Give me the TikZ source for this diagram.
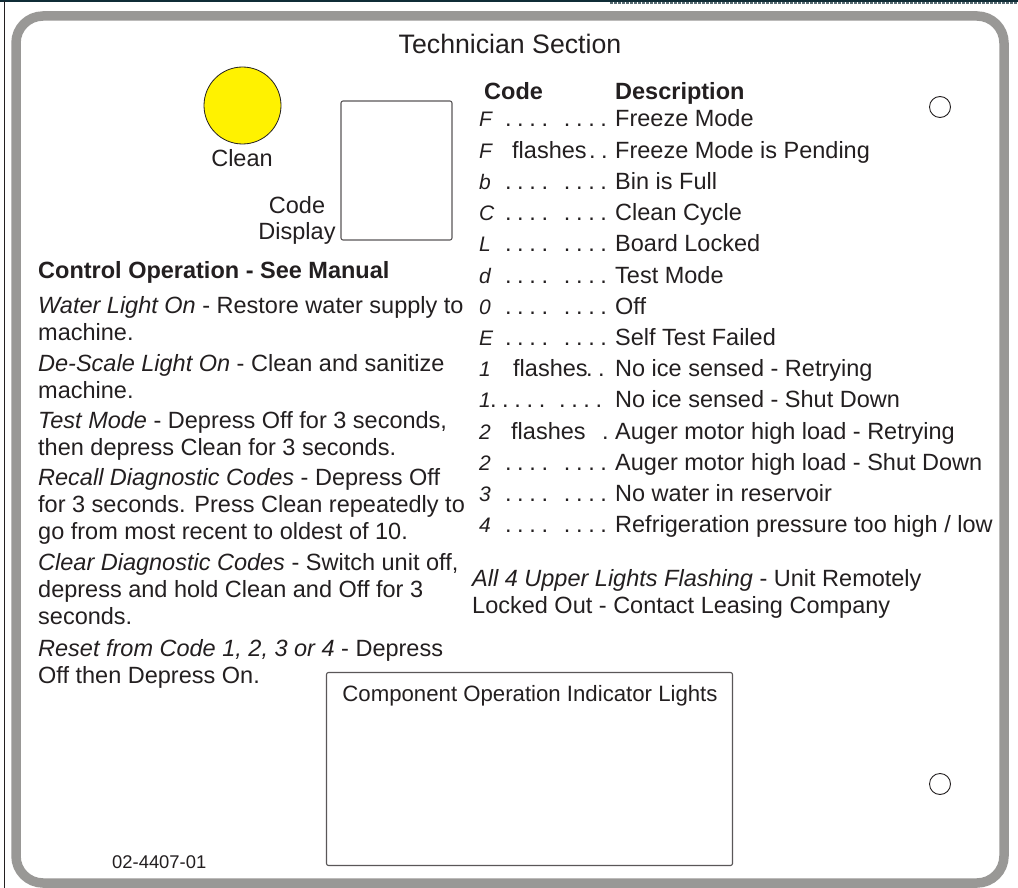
\documentclass[tikz,border=0pt]{standalone}
\usepackage{fontspec}
\setmainfont{Liberation Sans}
\definecolor{ink}{HTML}{231F20}
\definecolor{framegray}{HTML}{999896}
\definecolor{lamp}{HTML}{FFF200}
\definecolor{topbar}{HTML}{0F2C36}
\newcommand\bodyf{\fontsize{23.5}{27}\selectfont}
\newcommand\titlef{\fontsize{26.7}{30}\selectfont}
\newcommand\codef{\fontsize{21}{22}\selectfont\itshape}
\newcommand\partf{\fontsize{18.4}{22}\selectfont}
\newcommand\dd{\makebox[12.2pt][c]{.}}
\newcommand\eightdots{\dd\dd\dd\dd\hspace{10pt}\dd\dd\dd\dd}
\newcommand\ninedots{\dd\dd\dd\dd\dd\hspace{8pt}\dd\dd\dd\dd}
\begin{document}
\begin{tikzpicture}[x=1pt,y=-1pt,
  txt/.style={anchor=base west,inner sep=0pt,text=ink,font=\bodyf},
  ctxt/.style={anchor=base,inner sep=0pt,text=ink,font=\bodyf},
  codeglyph/.style={anchor=base west,inner sep=0pt,text=ink,font=\codef},
  hole/.style={draw=ink,line width=0.9pt,fill=white},
  boxline/.style={draw=ink!75,line width=1.1pt,rounded corners=2pt}]
\useasboundingbox (0,0) rectangle (1018,888);
\fill[white] (0,0) rectangle (1018,888);
% top bar and edges
\draw[topbar,line width=1.6pt] (0,0.8) -- (1018,0.8);
\draw[topbar!70,line width=1.4pt,dash pattern=on 3pt off 1pt] (610,3) -- (1018,3);
\draw[ink,line width=1pt] (4.5,1.5) -- (4.5,888);
% panel frame
\draw[framegray,line width=9.5pt,rounded corners=27pt] (16,16) rectangle (1004,883);
% title
\node[ctxt,font=\titlef] (title) at (510,54) {Technician Section};
% clean lamp
\node[circle,draw=ink,line width=0.8pt,fill=lamp,minimum size=77pt,inner sep=0pt] (lampc) at (242.5,105.5) {};
\node[ctxt] (cleanlbl) at (242,167) {Clean};
% code display
\node[boxline,minimum width=111pt,minimum height=139pt,inner sep=0pt] (display) at (396.5,170.5) {};
\node[ctxt] (codelbl) at (297,214) {Code};
\node[ctxt] (displbl) at (297,240) {Display};
% mounting holes
\node[circle,hole,minimum size=21pt,inner sep=0pt] (hole1) at (940,107) {};
\node[circle,hole,minimum size=21pt,inner sep=0pt] (hole2) at (940,784) {};
% left column
\node[txt,font=\bodyf\bfseries] (ctrl) at (38,278) {Control Operation - See Manual};
\node[txt] (l1) at (38,313) {\textit{Water Light On} - Restore water supply to};
\node[txt] (l2) at (38,340) {machine.};
\node[txt] (l3) at (38,371) {\textit{De-Scale Light On} - Clean and sanitize};
\node[txt] (l4) at (38,398) {machine.};
\node[txt] (l5) at (38,428) {\textit{Test Mode} - Depress Off for 3 seconds,};
\node[txt] (l6) at (38,455) {then depress Clean for 3 seconds.};
\node[txt] (l7) at (38,485) {\textit{Recall Diagnostic Codes} - Depress Off};
\node[txt] (l8) at (38,512) {for 3 seconds. Press Clean repeatedly to};
\node[txt] (l9) at (38,539) {go from most recent to oldest of 10.};
\node[txt] (l10) at (38,570) {\textit{Clear Diagnostic Codes} - Switch unit off,};
\node[txt] (l11) at (38,597) {depress and hold Clean and Off for 3};
\node[txt] (l12) at (38,624) {seconds.};
\node[txt] (l13) at (38,656) {\textit{Reset from Code 1, 2, 3 or 4} - Depress};
\node[txt] (l14) at (38,683) {Off then Depress On.};
% right column header
\node[txt,font=\bodyf\bfseries] (hcode) at (484,100) {Code};
\node[txt,font=\bodyf\bfseries] (hdesc) at (615,100) {Description};
% rows
\foreach \i/\c/\d in {0/F/{Freeze Mode},1/F/{Freeze Mode is Pending},2/b/{Bin is Full},3/C/{Clean Cycle},4/L/{Board Locked},5/d/{Test Mode},6/0/{Off},7/E/{Self Test Failed},8/1/{No ice sensed - Retrying},9/1/{No ice sensed - Shut Down},10/2/{Auger motor high load - Retrying},11/2/{Auger motor high load - Shut Down},12/3/{No water in reservoir},13/4/{Refrigeration pressure too high / low}}{
  \node[codeglyph] (code\i) at (479,127+31.2*\i) {\c};
  \node[txt] (desc\i) at (615,127+31.2*\i) {\d};
}
\foreach \i in {0,2,3,4,5,6,7,11,12,13}{
  \node[txt] (dots\i) at (502,127+31.2*\i) {\eightdots};
}
\node[txt] (dots9) at (487,127+31.2*9) {\ninedots};
\node[txt] (fl1) at (512,127+31.2*1) {flashes};
\node[txt] (fd1) at (586,127+31.2*1) {\dd\dd};
\node[txt] (fl8) at (513,127+31.2*8) {flashes};
\node[txt] (fd8) at (583,127+31.2*8) {\dd\dd};
\node[txt] (fl10) at (511,127+31.2*10) {flashes};
\node[txt] (fd10) at (599,127+31.2*10) {\dd};
% remote lockout note
\node[txt] (lock1) at (472,586) {\textit{All 4 Upper Lights Flashing} - Unit Remotely};
\node[txt] (lock2) at (472,613) {Locked Out - Contact Leasing Company};
% component box
\node[boxline,minimum width=406pt,minimum height=193pt,inner sep=0pt] (comp) at (529.5,769) {};
\node[ctxt,font=\fontsize{22.2}{25}\selectfont] (complbl) at (530,701) {Component Operation Indicator Lights};
% part number
\node[txt,font=\partf] (partno) at (112,868) {02-4407-01};
\end{tikzpicture}
\end{document}
